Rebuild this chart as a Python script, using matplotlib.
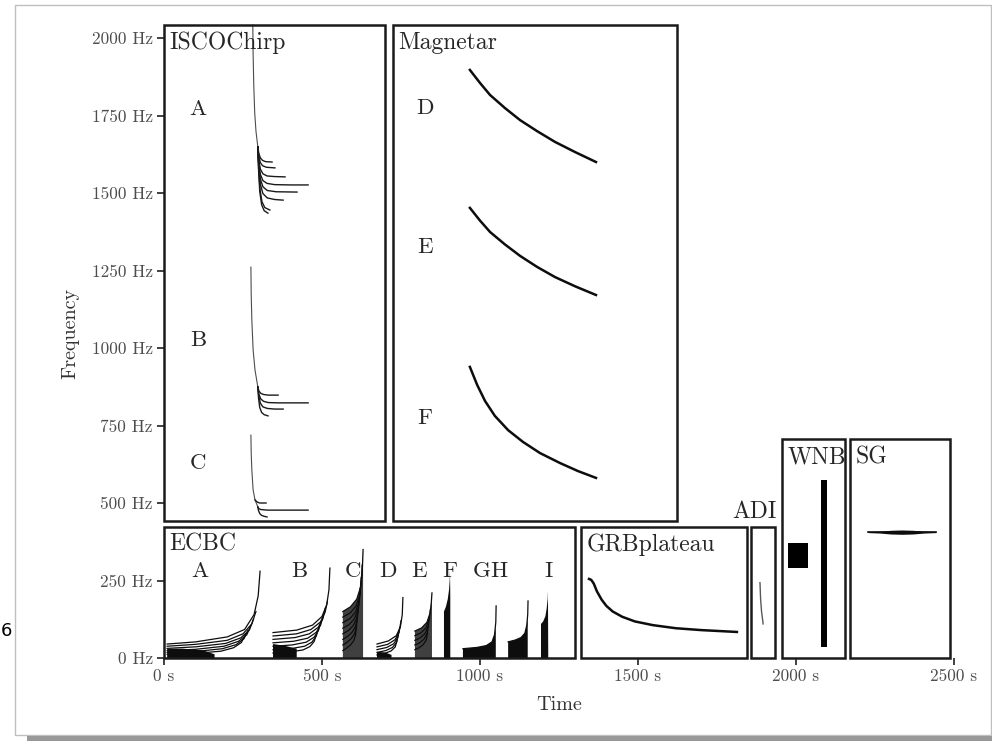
import numpy as np
import matplotlib
matplotlib.use('Agg')
import matplotlib.pyplot as plt
from matplotlib.patches import Rectangle

plt.rcParams['font.family'] = 'serif'
plt.rcParams['font.serif'] = ['cmr10', 'DejaVu Serif']
plt.rcParams['axes.formatter.use_mathtext'] = True

# ticks
x_ticks = [0, 500, 1000, 1500, 2000, 2500]
x_tick_labels = ['0 s', '500 s', '1000 s', '1500 s', '2000 s', '2500 s']
y_ticks = [0, 250, 500, 750, 1000, 1250, 1500, 1750, 2000]
y_tick_labels = ['0 Hz', '250 Hz', '500 Hz', '750 Hz', '1000 Hz', '1250 Hz',
                 '1500 Hz', '1750 Hz', '2000 Hz']

# boxes: name, t0, t1, f0, f1
box_names = ['ISCOChirp', 'Magnetar', 'ECBC', 'GRBplateau', 'ADI', 'WNB', 'SG']
box_t0 = [0, 725, 0, 1320, 1858, 1956, 2171]
box_t1 = [699, 1623, 1301, 1845, 1934, 2155, 2487]
box_f0 = [442, 442, 0, 0, 0, 0, 0]
box_f1 = [2042, 2042, 423, 423, 423, 706, 706]

# ISCOChirp (trunk + branches)
isco_a_trunk = ([281, 282, 284, 287, 291, 297], [2042, 1950, 1850, 1760, 1700, 1648])
isco_a_branches = [
    ([297, 300, 305, 312, 322, 342], [1648, 1628, 1613, 1605, 1601, 1600]),
    ([297, 300, 305, 312, 324, 351], [1648, 1618, 1598, 1588, 1583, 1581]),
    ([297, 300, 305, 313, 326, 350, 383], [1648, 1605, 1577, 1562, 1555, 1553, 1552]),
    ([297, 300, 305, 313, 326, 350, 400, 456], [1648, 1596, 1560, 1540, 1531, 1527, 1526, 1526]),
    ([297, 300, 305, 313, 327, 355, 421], [1648, 1588, 1545, 1520, 1508, 1504, 1503]),
    ([297, 300, 305, 313, 327, 350, 377], [1648, 1580, 1528, 1498, 1484, 1479, 1477]),
    ([297, 300, 304, 310, 319, 335], [1648, 1570, 1510, 1472, 1453, 1445]),
    ([297, 299, 303, 309, 317, 329], [1648, 1580, 1505, 1462, 1443, 1435]),
]
isco_b_trunk = ([275, 276, 278, 282, 288, 297], [1261, 1170, 1090, 994, 929, 874])
isco_b_branches = [
    ([297, 300, 306, 315, 330, 361], [874, 862, 854, 850, 848, 848]),
    ([297, 300, 306, 315, 330, 360, 456], [874, 852, 836, 828, 824, 823, 823]),
    ([297, 300, 305, 313, 327, 350, 377], [874, 845, 822, 810, 805, 803, 803]),
    ([297, 299, 303, 309, 317, 329], [874, 840, 808, 792, 785, 781]),
]
isco_c_trunk = ([275, 276, 278, 282, 288, 297], [719, 660, 606, 542, 510, 487])
isco_c_branches = [
    ([288, 295, 303, 312, 323], [510, 503, 500, 500, 500]),
    ([297, 300, 306, 315, 330, 360, 456], [487, 482, 479, 478, 477, 477, 477]),
    ([297, 299, 303, 309, 317, 326], [487, 476, 466, 460, 457, 455]),
]
isco_letters = ['A', 'B', 'C']
isco_letter_f = [1770, 1026, 628]

# Magnetar
mag_t = [968, 1000, 1032, 1079, 1127, 1180, 1237, 1301, 1367]
mag_d = [1897, 1855, 1816, 1774, 1735, 1700, 1665, 1632, 1600]
mag_e = [1452, 1411, 1374, 1334, 1297, 1262, 1229, 1199, 1171]
mag_f_t = [968, 991, 1016, 1047, 1089, 1136, 1190, 1253, 1310, 1367]
mag_f = [939, 881, 829, 781, 735, 697, 661, 629, 603, 581]
mag_letters = ['D', 'E', 'F']
mag_letter_f = [1773, 1324, 773]

# ECBC chirp families
ecbc_a = [
    ([10, 100, 200, 255, 285, 298, 304], [45, 52, 68, 92, 140, 200, 280]),
    ([10, 100, 200, 250, 278, 291], [38, 44, 57, 78, 110, 150]),
    ([10, 100, 195, 243, 270, 283], [31, 36, 47, 65, 90, 125]),
    ([10, 100, 190, 236, 262, 275], [24, 28, 38, 54, 75, 105]),
    ([10, 100, 185, 228, 253, 266], [18, 21, 30, 43, 62, 90]),
    ([10, 100, 180, 220, 245, 257], [12, 15, 22, 33, 50, 75]),
]
ecbc_b = [
    ([345, 420, 470, 500, 515, 522, 525], [82, 90, 106, 134, 172, 220, 290]),
    ([345, 420, 465, 495, 510, 517], [71, 78, 92, 116, 148, 182]),
    ([345, 415, 460, 488, 503, 510], [60, 66, 78, 99, 127, 160]),
    ([345, 410, 455, 482, 496, 503], [49, 54, 64, 83, 107, 135]),
    ([345, 405, 450, 475, 489, 496], [38, 42, 51, 67, 89, 115]),
    ([345, 400, 445, 468, 482, 489], [27, 30, 38, 51, 71, 95]),
    ([345, 395, 440, 462, 475, 482], [16, 19, 26, 37, 53, 75]),
]
ecbc_c = [
    ([566, 590, 610, 621, 627, 630], [150, 165, 190, 225, 270, 350]),
    ([566, 590, 608, 618, 624, 627], [132, 146, 168, 198, 240, 300]),
    ([566, 588, 605, 615, 621, 624], [114, 127, 147, 174, 210, 260]),
    ([566, 586, 602, 612, 618, 621], [96, 108, 126, 150, 182, 225]),
    ([566, 584, 599, 609, 615, 618], [78, 89, 105, 126, 155, 190]),
    ([566, 582, 596, 606, 612, 615], [60, 70, 84, 102, 128, 160]),
    ([566, 580, 593, 603, 609, 612], [42, 51, 63, 78, 100, 130]),
    ([566, 578, 590, 600, 606, 609], [24, 32, 42, 55, 73, 100]),
]
ecbc_d = [
    ([674, 710, 735, 748, 754, 756], [45, 55, 72, 100, 140, 195]),
    ([674, 708, 731, 744, 750], [36, 44, 59, 83, 120]),
    ([674, 705, 727, 740, 746], [27, 34, 46, 66, 98]),
    ([674, 702, 723, 736, 742], [18, 24, 34, 50, 78]),
    ([674, 699, 719, 732, 738], [10, 15, 23, 36, 60]),
]
ecbc_e = [
    ([794, 815, 832, 842, 846, 848], [87, 97, 115, 145, 180, 210]),
    ([794, 813, 829, 839, 843], [72, 81, 97, 124, 155]),
    ([794, 811, 826, 836, 840], [57, 65, 79, 102, 130]),
    ([794, 809, 823, 833, 837], [42, 49, 61, 80, 105]),
    ([794, 807, 820, 830, 834], [27, 33, 43, 58, 80]),
]
ecbc_g = [([946, 990, 1020, 1038, 1046, 1050, 1051], [30, 34, 40, 52, 75, 115, 168])]
ecbc_h = [([1089, 1112, 1130, 1142, 1148, 1151, 1152], [52, 58, 66, 80, 105, 140, 184])]
# dense (filled) parts: outline t, f
ecbc_fill_a = ([10, 10, 60, 123, 160, 160], [0, 30, 30, 25, 12, 0])
ecbc_fill_b = ([345, 345, 380, 420, 420], [0, 45, 40, 30, 0])
ecbc_fill_c = ([566, 566, 590, 610, 621, 627, 630, 630], [0, 150, 165, 190, 225, 270, 350, 0])
ecbc_fill_d = ([674, 674, 700, 720, 720], [0, 20, 18, 10, 0])
ecbc_fill_e = ([794, 794, 815, 832, 842, 846, 848, 848], [0, 87, 97, 115, 145, 180, 210, 0])
ecbc_fill_f = ([886, 886, 892, 898, 902, 904, 905, 906, 906], [0, 150, 165, 190, 220, 250, 282, 200, 0])
ecbc_fill_g = ([946, 946, 990, 1020, 1038, 1046, 1050, 1050], [0, 30, 34, 40, 52, 75, 100, 0])
ecbc_fill_h = ([1089, 1089, 1112, 1130, 1142, 1148, 1151, 1151], [0, 52, 58, 66, 80, 105, 130, 0])
ecbc_fill_i = ([1193, 1193, 1200, 1207, 1211, 1214, 1215, 1216], [0, 110, 118, 135, 160, 190, 217, 0])
ecbc_letters = ['A', 'B', 'C', 'D', 'E', 'F', 'G', 'H', 'I']
ecbc_letter_t = [114, 427, 598, 709, 807, 905, 1006, 1060, 1218]
ecbc_letter_f = 281

# GRBplateau
grb_t = [1345, 1352, 1360, 1370, 1385, 1400, 1420, 1450, 1490, 1547, 1620, 1700, 1813]
grb_f = [255, 252, 240, 215, 188, 168, 150, 133, 118, 106, 96, 90, 84]

# ADI
adi_t = [1886, 1888, 1891, 1896]
adi_f = [243, 190, 150, 110]

# WNB blocks: t0, t1, f0, f1
wnb_t0 = [1976, 2079]
wnb_t1 = [2038, 2098]
wnb_f0 = [290, 35]
wnb_f1 = [371, 574]

# SG
sg_t = [2228, 2265, 2300, 2335, 2370, 2405, 2443]
sg_half = [1.5, 3, 6, 7, 6, 3, 1.5]
sg_f = 406

fig = plt.figure(figsize=(9.92, 7.41), dpi=100)
ax = fig.add_axes([164 / 992, 83 / 741, 790 / 992, 635.5 / 741])
ax.set_xlim(0, 2500)
ax.set_ylim(0, 2050)
for s in ax.spines.values():
    s.set_visible(False)

ink = '0.1'

# boxes + titles
for name, t0, t1, f0, f1 in zip(box_names, box_t0, box_t1, box_f0, box_f1):
    ax.add_patch(Rectangle((t0, f0), t1 - t0, f1 - f0, fill=False, lw=1.8,
                           ec=ink, clip_on=False, zorder=3))
    if name == 'ADI':
        ax.annotate(name, (t1, f1), xytext=(1, 3), textcoords='offset points',
                    ha='right', va='bottom', fontsize=17, color='0.15')
    else:
        ax.annotate(name, (t0, f1), xytext=(4, -5), textcoords='offset points',
                    ha='left', va='top', fontsize=17, color='0.15')

# ISCOChirp
for trunk, branches in [(isco_a_trunk, isco_a_branches),
                        (isco_b_trunk, isco_b_branches),
                        (isco_c_trunk, isco_c_branches)]:
    ax.plot(trunk[0], trunk[1], color='0.3', lw=0.8)
    for bt, bf in branches:
        ax.plot(bt, bf, color='0.1', lw=1.0)
for lab, f in zip(isco_letters, isco_letter_f):
    ax.text(108, f, lab, fontsize=16.5, ha='center', va='center', color='0.15')

# Magnetar
ax.plot(mag_t, mag_d, color='0.05', lw=1.8)
ax.plot(mag_t, mag_e, color='0.05', lw=1.8)
ax.plot(mag_f_t, mag_f, color='0.05', lw=1.8)
for lab, f in zip(mag_letters, mag_letter_f):
    ax.text(826, f, lab, fontsize=16.5, ha='center', va='center', color='0.15')

# ECBC
for t, f in [ecbc_fill_c, ecbc_fill_e]:
    ax.fill(t, f, color='0.25', lw=0)
for t, f in [ecbc_fill_a, ecbc_fill_b, ecbc_fill_d, ecbc_fill_f,
             ecbc_fill_g, ecbc_fill_h, ecbc_fill_i]:
    ax.fill(t, f, color='0.05', lw=0)
for fam in [ecbc_a, ecbc_b, ecbc_c, ecbc_d, ecbc_e, ecbc_g, ecbc_h]:
    for t, f in fam:
        ax.plot(t, f, color='0.05', lw=0.9)
for lab, t in zip(ecbc_letters, ecbc_letter_t):
    ax.text(t, ecbc_letter_f, lab, fontsize=16.5, ha='center', va='center', color='0.15')

# GRBplateau
ax.plot(grb_t, grb_f, color='0.05', lw=1.8)

# ADI
ax.plot(adi_t, adi_f, color='0.35', lw=1.0)

# WNB
ax.bar(wnb_t0, np.subtract(wnb_f1, wnb_f0), width=np.subtract(wnb_t1, wnb_t0),
       bottom=wnb_f0, align='edge', color='black', lw=0)

# SG
ax.plot([sg_t[0], sg_t[-1]], [sg_f, sg_f], color='0.05', lw=1.2)
ax.fill_between(sg_t, sg_f - np.array(sg_half), sg_f + np.array(sg_half), color='0.05', lw=0)

ax.set_xticks(x_ticks)
ax.set_xticklabels(x_tick_labels)
ax.set_yticks(y_ticks)
ax.set_yticklabels(y_tick_labels)
ax.tick_params(length=5, width=1.3, color='0.2', labelcolor='0.3', labelsize=12.5, pad=3)

ax.set_xlabel('Time', fontsize=14.5, color='0.2')
ax.set_ylabel('Frequency', fontsize=14.5, color='0.2')
ax.xaxis.set_label_coords(0.5, -0.074)
ax.xaxis.label.set_va('center')
ax.yaxis.set_label_coords(-0.119, 0.51)
ax.yaxis.label.set_va('center')

# page frame of the screenshot
fig.add_artist(Rectangle((15 / 992, 6 / 741), 976 / 992, 730 / 741, transform=fig.transFigure,
                         fill=False, ec='0.75', lw=1))
fig.add_artist(Rectangle((27 / 992, 0), 1, 5 / 741, transform=fig.transFigure,
                         fc='0.6', ec='none'))
fig.text(1 / 992, 110 / 741, '6', fontsize=13, family='DejaVu Sans', va='center', ha='left')

fig.savefig('out.png', dpi=100)
